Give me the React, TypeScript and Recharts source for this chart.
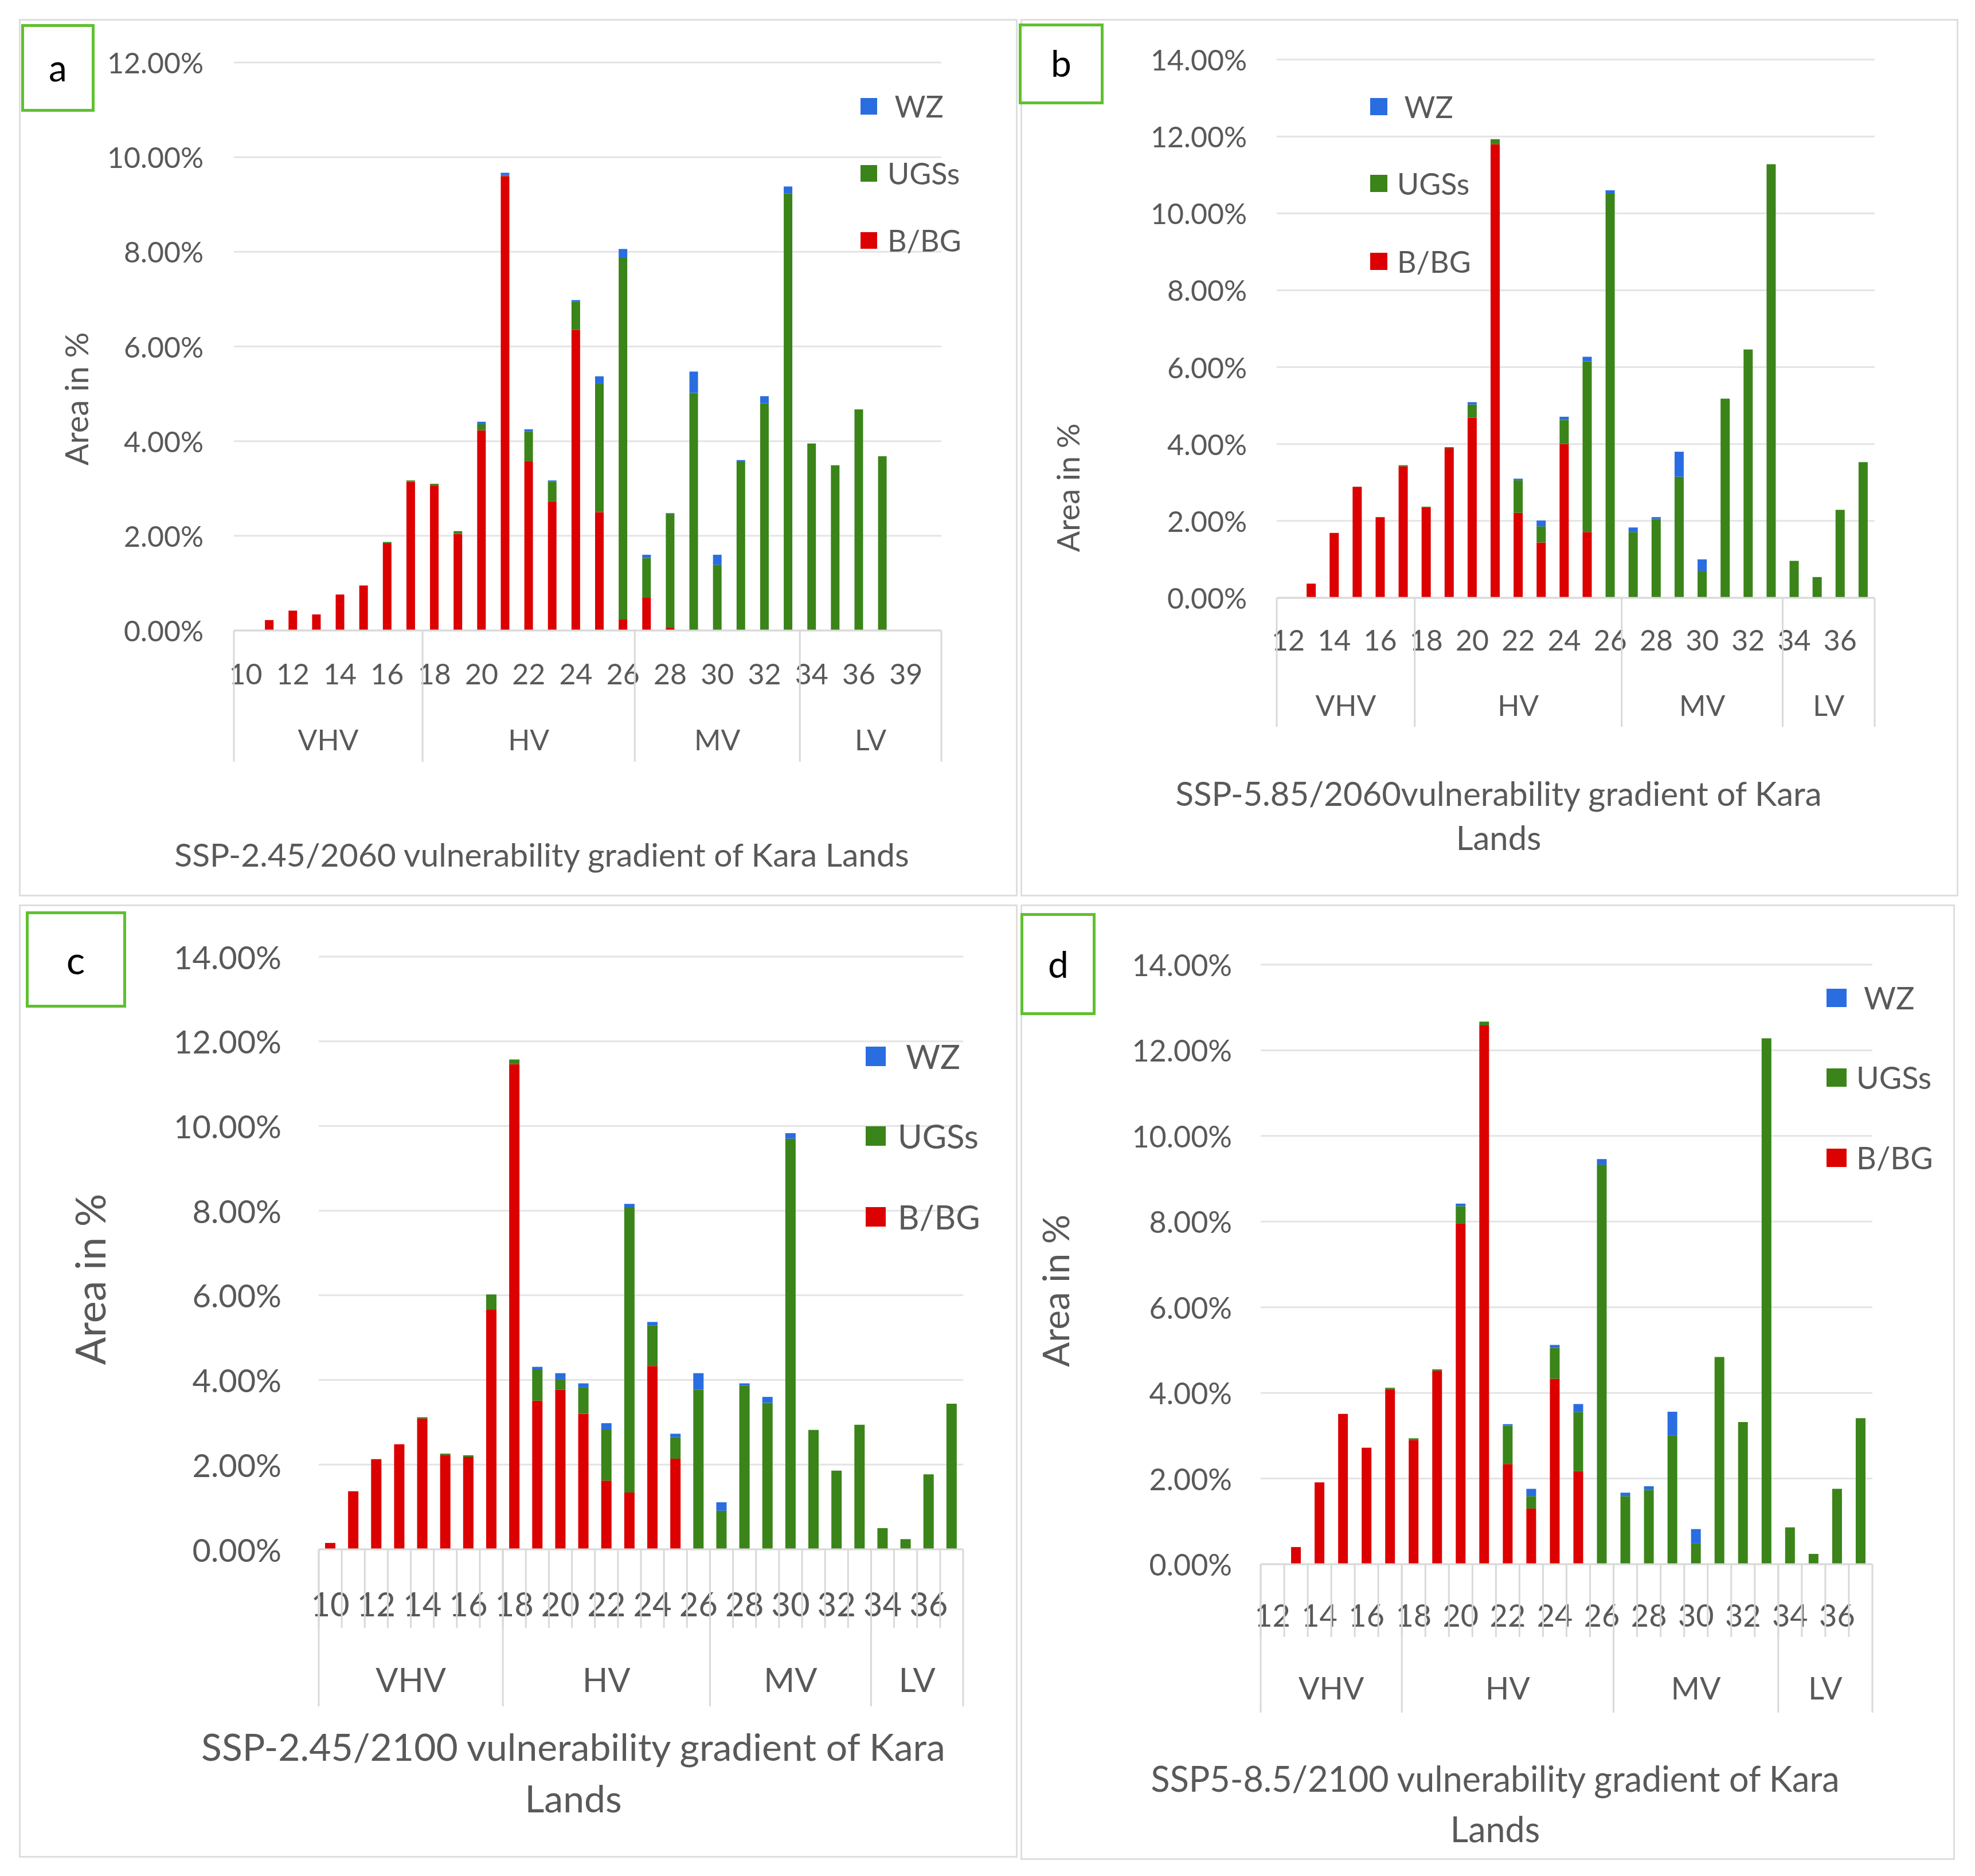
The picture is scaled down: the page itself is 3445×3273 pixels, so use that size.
import React from 'react';
import { BarChart, Bar, XAxis, YAxis, CartesianGrid } from 'recharts';

const FONT = 'Lato, "Open Sans", "DejaVu Sans", sans-serif';
const TXT = '#595959';
const RED = '#dc0000';
const GREEN = '#3a8419';
const BLUE = '#2a6de0';

const groupNames = ['VHV', 'HV', 'MV', 'LV'];
const seriesNames = ['B/BG', 'UGSs', 'WZ'];

// Panel a
const catsA = ['10','11','12','13','14','15','16','17','18','19','20','21','22','23','24','25','26','27','28','29','30','31','32','33','34','35','36','37','39','40'];
const bbgA = [0,0.22,0.42,0.34,0.76,0.95,1.84,3.14,3.07,2.04,4.23,9.6,3.58,2.73,6.35,2.5,0.24,0.69,0.07,0,0,0,0,0,0,0,0,0,0,0];
const ugsA = [0,0,0,0,0,0,0.03,0.03,0.03,0.06,0.13,0.02,0.63,0.41,0.59,2.72,7.63,0.84,2.39,5.02,1.39,3.56,4.8,9.23,3.95,3.49,4.67,3.68,0,0];
const wzA = [0,0,0,0,0,0,0,0,0,0,0.05,0.05,0.04,0.03,0.04,0.15,0.19,0.07,0.02,0.45,0.21,0.04,0.15,0.15,0,0,0,0,0,0];
const groupsA = [8, 9, 7, 6];

// Panel b
const catsB = ['12','13','14','15','16','17','18','19','20','21','22','23','24','25','26','27','28','29','30','31','32','33','34','35','36','37'];
const bbgB = [0,0.37,1.69,2.89,2.1,3.42,2.34,3.89,4.69,11.8,2.21,1.44,4.0,1.71,0,0,0,0,0,0,0,0,0,0,0,0];
const ugsB = [0,0,0,0,0,0.03,0.03,0.03,0.34,0.13,0.85,0.42,0.63,4.44,10.51,1.71,2.05,3.15,0.7,5.18,6.46,11.28,0.96,0.54,2.29,3.53];
const wzB = [0,0,0,0,0,0,0,0,0.06,0,0.04,0.15,0.08,0.12,0.09,0.12,0.05,0.65,0.3,0,0,0,0,0,0,0];
const groupsB = [6, 9, 7, 4];

// Panel c
const catsC = ['10','11','12','13','14','15','16','17','18','19','20','21','22','23','24','25','26','27','28','29','30','31','32','33','34','35','36','37'];
const bbgC = [0.15,1.37,2.13,2.48,3.09,2.23,2.18,5.66,11.46,3.51,3.77,3.2,1.62,1.34,4.33,2.14,0,0,0,0,0,0,0,0,0,0,0,0];
const ugsC = [0,0,0,0,0.03,0.03,0.04,0.36,0.11,0.74,0.25,0.63,1.21,6.73,0.96,0.51,3.77,0.91,3.87,3.46,9.7,2.82,1.86,2.94,0.5,0.24,1.77,3.44];
const wzC = [0,0,0,0,0,0,0,0,0,0.06,0.14,0.09,0.15,0.09,0.08,0.08,0.39,0.2,0.05,0.14,0.13,0,0,0,0,0,0,0];
const groupsC = [8, 9, 7, 4];

// Panel d
const catsD = ['12','13','14','15','16','17','18','19','20','21','22','23','24','25','26','27','28','29','30','31','32','33','34','35','36','37'];
const bbgD = [0,0.4,1.91,3.51,2.72,4.09,2.9,4.52,7.96,12.58,2.34,1.3,4.33,2.17,0,0,0,0,0,0,0,0,0,0,0,0];
const ugsD = [0,0,0,0,0,0.03,0.04,0.03,0.4,0.09,0.89,0.29,0.72,1.38,9.33,1.59,1.73,3.0,0.48,4.84,3.32,12.28,0.86,0.24,1.76,3.41];
const wzD = [0,0,0,0,0,0,0,0,0.06,0,0.04,0.17,0.07,0.19,0.13,0.08,0.09,0.56,0.34,0,0,0,0,0,0,0];
const groupsD = [6, 9, 7, 4];

const titleA = ['SSP-2.45/2060 vulnerability gradient of Kara Lands'];
const titleB = ['SSP-5.85/2060vulnerability gradient of Kara', 'Lands'];
const titleC = ['SSP-2.45/2100 vulnerability gradient of Kara', 'Lands'];
const titleD = ['SSP5-8.5/2100 vulnerability gradient of Kara', 'Lands'];

type Cfg = {
  letter: string;
  L: number; T: number; W: number; H: number;
  plotLeft: number; plotRight: number; plotTop: number; zeroY: number; yMax: number;
  cats: string[]; bbg: number[]; ugs: number[]; wz: number[]; groups: number[];
  tickFont: number; tickRight: number;
  xLabelY: number; xFont: number; groupY: number; groupFont: number; sepBottom: number; catTickBottom?: number;
  yTitle: { x: number; y: number; size: number };
  title: { x: number; ys: number[]; size: number; lines: string[] };
  legend: { sx: number; sw: number; sh: number; tx: number; ys: number[]; size: number };
  box: { l: number; t: number; r: number; b: number; lx: number; ly: number; size: number };
  barSize: number;
};

const panels: Cfg[] = [
  {
    letter: 'a', L: 33, T: 33, W: 1742, H: 1531,
    plotLeft: 408, plotRight: 1642, plotTop: 109, zeroY: 1100, yMax: 12,
    cats: catsA, bbg: bbgA, ugs: ugsA, wz: wzA, groups: groupsA,
    tickFont: 50, tickRight: 355,
    xLabelY: 1175, xFont: 50, groupY: 1290, groupFont: 50, sepBottom: 1329,
    yTitle: { x: 133, y: 696, size: 56 },
    title: { x: 945, ys: [1490], size: 57, lines: titleA },
    legend: { sx: 1501, sw: 29, sh: 29, tx: 1548, ys: [185, 302, 419], size: 52 },
    box: { l: 37, t: 42, r: 165, b: 195, lx: 101, ly: 118, size: 64 },
    barSize: 15,
  },
  {
    letter: 'b', L: 1780, T: 33, W: 1636, H: 1531,
    plotLeft: 2227, plotRight: 3270, plotTop: 104, zeroY: 1043, yMax: 14,
    cats: catsB, bbg: bbgB, ugs: ugsB, wz: wzB, groups: groupsB,
    tickFont: 50, tickRight: 2175,
    xLabelY: 1116, xFont: 50, groupY: 1230, groupFont: 50, sepBottom: 1268,
    yTitle: { x: 1863, y: 851, size: 54 },
    title: { x: 2614, ys: [1384, 1461], size: 58, lines: titleB },
    legend: { sx: 2390, sw: 30, sh: 30, tx: 2437, ys: [186, 320, 456], size: 52 },
    box: { l: 1777, t: 41, r: 1925, b: 182, lx: 1851, ly: 110, size: 64 },
    barSize: 16,
  },
  {
    letter: 'c', L: 33, T: 1578, W: 1742, H: 1663,
    plotLeft: 556, plotRight: 1680, plotTop: 1669, zeroY: 2703, yMax: 14,
    cats: catsC, bbg: bbgC, ugs: ugsC, wz: wzC, groups: groupsC,
    tickFont: 56, tickRight: 491,
    xLabelY: 2797, xFont: 58, groupY: 2929, groupFont: 58, sepBottom: 2977, catTickBottom: 2840,
    yTitle: { x: 156, y: 2232, size: 72 },
    title: { x: 1000, ys: [3047, 3137], size: 66, lines: titleC },
    legend: { sx: 1510, sw: 35, sh: 34, tx: 1566, ys: [1843, 1982, 2123], size: 58 },
    box: { l: 45, t: 1590, r: 220, b: 1758, lx: 132, ly: 1674, size: 68 },
    barSize: 18,
  },
  {
    letter: 'd', L: 1780, T: 1578, W: 1630, H: 1667,
    plotLeft: 2199, plotRight: 3266, plotTop: 1683, zeroY: 2729, yMax: 14,
    cats: catsD, bbg: bbgD, ugs: ugsD, wz: wzD, groups: groupsD,
    tickFont: 52, tickRight: 2149,
    xLabelY: 2817, xFont: 54, groupY: 2944, groupFont: 54, sepBottom: 2988, catTickBottom: 2856,
    yTitle: { x: 1841, y: 2252, size: 64 },
    title: { x: 2608, ys: [3102, 3190], size: 61, lines: titleD },
    legend: { sx: 3186, sw: 35, sh: 32, tx: 3238, ys: [1741, 1880, 2020], size: 54 },
    box: { l: 1780, t: 1593, r: 1911, b: 1771, lx: 1846, ly: 1682, size: 64 },
    barSize: 17,
  },
];

const abs = (x: number, y: number): React.CSSProperties => ({
  position: 'absolute', left: x, top: y, transform: 'translate(-50%, -50%)', whiteSpace: 'nowrap', lineHeight: 1,
});

function Panel({ c }: { c: Cfg }) {
  const data = c.cats.map((cat, i) => ({ cat, bbg: c.bbg[i], ugs: c.ugs[i], wz: c.wz[i] }));
  const n = c.cats.length;
  const bw = (c.plotRight - c.plotLeft) / n;
  const starts: number[] = [];
  let acc = 0;
  c.groups.forEach((g) => { starts.push(acc); acc += g; });
  const ticks: number[] = [];
  for (let v = 0; v <= c.yMax; v += 2) ticks.push(v);
  const zeroRel = c.zeroY - c.T;
  const lineCol = '#d9d9d9';

  const XTick = (props: any) => {
    const { x, index } = props;
    const i = index;
    const left = x - bw / 2;
    const els: React.ReactNode[] = [];
    if (i % 2 === 0) {
      els.push(
        <text key="t" x={x} y={c.xLabelY - c.T} textAnchor="middle" dominantBaseline="central"
          fontSize={c.xFont} fill={TXT} fontFamily={FONT}>{props.payload.value}</text>
      );
    }
    if (c.catTickBottom) {
      els.push(<line key="ct" x1={left} x2={left} y1={zeroRel} y2={c.catTickBottom - c.T} stroke={lineCol} strokeWidth={3} />);
    }
    const gi = starts.indexOf(i);
    if (gi >= 0) {
      els.push(<line key="gs" x1={left} x2={left} y1={zeroRel} y2={c.sepBottom - c.T} stroke={lineCol} strokeWidth={3} />);
      els.push(
        <text key="gl" x={left + (c.groups[gi] * bw) / 2} y={c.groupY - c.T} textAnchor="middle" dominantBaseline="central"
          fontSize={c.groupFont} fill={TXT} fontFamily={FONT}>{groupNames[gi]}</text>
      );
    }
    if (i === n - 1) {
      els.push(<line key="ge" x1={x + bw / 2} x2={x + bw / 2} y1={zeroRel} y2={c.sepBottom - c.T} stroke={lineCol} strokeWidth={3} />);
    }
    return <g>{els}</g>;
  };

  const YTick = (props: any) => (
    <text x={c.tickRight - c.L} y={props.y} textAnchor="end" dominantBaseline="central"
      fontSize={c.tickFont} fill={TXT} fontFamily={FONT}>{`${Number(props.payload.value).toFixed(2)}%`}</text>
  );

  const legendItems = [
    { name: seriesNames[2], color: BLUE, pre: ' ' },
    { name: seriesNames[1], color: GREEN, pre: '' },
    { name: seriesNames[0], color: RED, pre: '' },
  ];

  return (
    <>
      <div style={{ position: 'absolute', left: c.L, top: c.T, width: c.W, height: c.H, border: '3px solid #dedede', boxSizing: 'border-box' }} />
      <div style={{ position: 'absolute', left: c.L, top: c.T }}>
        <BarChart width={c.W} height={c.H} data={data}
          margin={{ top: c.plotTop - c.T, right: c.L + c.W - c.plotRight, left: 0, bottom: c.T + c.H - c.zeroY - 30 }}>
          <CartesianGrid vertical={false} stroke="#e4e4e4" strokeWidth={3} />
          <XAxis dataKey="cat" interval={0} height={30} tickLine={false} tickSize={0} tickMargin={0}
            axisLine={{ stroke: lineCol, strokeWidth: 3 }} tick={XTick} />
          <YAxis type="number" width={c.plotLeft - c.L} domain={[0, c.yMax]} ticks={ticks} interval={0}
            axisLine={false} tickLine={false} tick={YTick} />
          <Bar dataKey="bbg" name={seriesNames[0]} stackId="s" fill={RED} barSize={c.barSize} isAnimationActive={false} />
          <Bar dataKey="ugs" name={seriesNames[1]} stackId="s" fill={GREEN} barSize={c.barSize} isAnimationActive={false} />
          <Bar dataKey="wz" name={seriesNames[2]} stackId="s" fill={BLUE} barSize={c.barSize} isAnimationActive={false} />
        </BarChart>
      </div>
      {legendItems.map((it, k) => (
        <React.Fragment key={it.name}>
          <div style={{ position: 'absolute', left: c.legend.sx, top: c.legend.ys[k] - c.legend.sh / 2, width: c.legend.sw, height: c.legend.sh, background: it.color }} />
          <div style={{ position: 'absolute', left: c.legend.tx, top: c.legend.ys[k], transform: 'translateY(-50%)', fontSize: c.legend.size, color: TXT, fontFamily: FONT, whiteSpace: 'pre', lineHeight: 1 }}>
            {it.pre + it.name}
          </div>
        </React.Fragment>
      ))}
      <div style={{ ...abs(c.yTitle.x, c.yTitle.y), transform: 'translate(-50%, -50%) rotate(-90deg)', fontSize: c.yTitle.size, color: TXT, fontFamily: FONT }}>
        Area in %
      </div>
      {c.title.lines.map((ln, k) => (
        <div key={k} style={{ ...abs(c.title.x, c.title.ys[k]), fontSize: c.title.size, color: TXT, fontFamily: FONT }}>{ln}</div>
      ))}
      <div style={{ position: 'absolute', left: c.box.l, top: c.box.t, width: c.box.r - c.box.l, height: c.box.b - c.box.t, border: '5px solid #5fc030', boxSizing: 'border-box', background: '#fff' }} />
      <div style={{ ...abs(c.box.lx, c.box.ly), fontSize: c.box.size, color: '#000', fontFamily: FONT }}>{c.letter}</div>
    </>
  );
}

export default function App() {
  return (
    <div style={{ position: 'absolute', left: 0, top: 0, width: 3445, height: 3273, background: '#fff', overflow: 'hidden', fontFamily: FONT }}>
      {panels.map((p) => <Panel key={p.letter} c={p} />)}
    </div>
  );
}
